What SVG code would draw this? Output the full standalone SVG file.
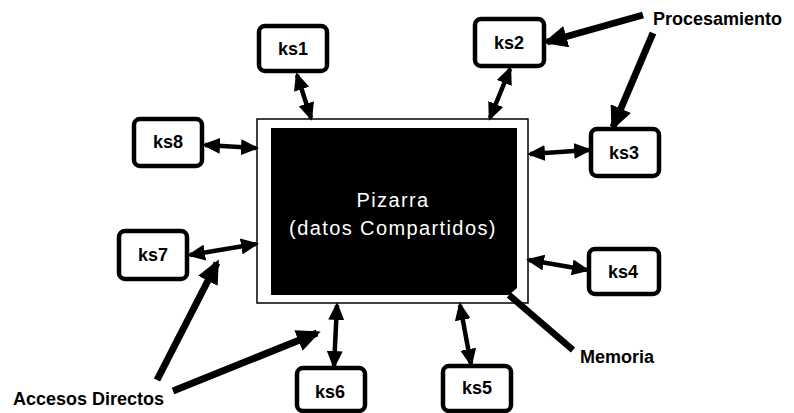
<svg xmlns="http://www.w3.org/2000/svg" width="794" height="413" viewBox="0 0 794 413">
<style>
.node rect{fill:#fff;stroke:#000;stroke-width:4.5}
.lbl{font-family:"Liberation Sans",Arial,sans-serif;font-weight:bold;font-size:18px;fill:#000;text-anchor:middle;dominant-baseline:central}
.note{font-family:"Liberation Sans",Arial,sans-serif;font-weight:bold;font-size:18px;fill:#000;dominant-baseline:central}
.big{font-family:"Liberation Sans",Arial,sans-serif;font-size:20px;letter-spacing:1.4px;fill:#fff;text-anchor:middle;dominant-baseline:central}
.dbl{stroke:#000;stroke-width:4.5;fill:none;marker-start:url(#h);marker-end:url(#h)}
.one{stroke:#000;stroke-width:7;fill:none;marker-end:url(#H)}
.mem{stroke:#000;stroke-width:6.5;fill:none}
</style>
<defs>
<marker id="h" markerUnits="userSpaceOnUse" markerWidth="18" markerHeight="16" viewBox="0 0 18 16" refX="15" refY="8" orient="auto-start-reverse">
<path d="M0,0 L18,8 L0,16 z" fill="#000"/>
</marker>
<marker id="H" markerUnits="userSpaceOnUse" markerWidth="24" markerHeight="22" viewBox="0 0 24 22" refX="20" refY="11" orient="auto">
<path d="M0,0 L24,11 L0,22 z" fill="#000"/>
</marker>
</defs>
<rect width="794" height="413" fill="#fff"/>

<g id="pizarra">
<rect x="257" y="119" width="271" height="184" fill="#fff" stroke="#000" stroke-width="1.5"/>
<path d="M271,128 H517 V288 L509,295 H271 Z" fill="#000"/>
<text class="big" x="393" y="200">Pizarra</text>
<text class="big" x="393" y="228">(datos Compartidos)</text>
</g>

<g id="ks1" class="node"><rect x="259" y="26" width="68" height="45" rx="6"/><text class="lbl" x="293" y="49">ks1</text></g>
<g id="ks2" class="node"><rect x="475" y="19" width="69" height="47" rx="6"/><text class="lbl" x="509" y="43">ks2</text></g>
<g id="ks3" class="node"><rect x="591" y="129" width="68" height="47" rx="6"/><text class="lbl" x="624" y="153">ks3</text></g>
<g id="ks4" class="node"><rect x="589" y="249" width="70" height="45" rx="6"/><text class="lbl" x="623" y="272">ks4</text></g>
<g id="ks5" class="node"><rect x="443" y="366" width="68" height="45" rx="6"/><text class="lbl" x="477" y="388">ks5</text></g>
<g id="ks6" class="node"><rect x="297" y="368" width="68" height="43" rx="6"/><text class="lbl" x="330" y="392">ks6</text></g>
<g id="ks7" class="node"><rect x="119" y="231" width="68" height="48" rx="6"/><text class="lbl" x="153" y="255">ks7</text></g>
<g id="ks8" class="node"><rect x="134" y="119" width="68" height="47" rx="6"/><text class="lbl" x="168" y="142">ks8</text></g>

<g id="labels">
<text class="note" x="653" y="19">Procesamiento</text>
<text class="note" x="580" y="357">Memoria</text>
<text class="note" x="13" y="399">Accesos Directos</text>
</g>

<g id="connectors">
<line class="dbl" x1="297" y1="75" x2="311" y2="118"/>
<line class="dbl" x1="510" y1="69" x2="490" y2="118"/>
<line class="dbl" x1="530" y1="154" x2="589" y2="150"/>
<line class="dbl" x1="529" y1="260" x2="587" y2="270"/>
<line class="dbl" x1="460" y1="305" x2="471" y2="364"/>
<line class="dbl" x1="337" y1="305" x2="334" y2="366"/>
<line class="dbl" x1="190" y1="255" x2="256" y2="244"/>
<line class="dbl" x1="205" y1="145" x2="256" y2="148"/>
<line class="one" x1="643" y1="15" x2="547" y2="42"/>
<line class="one" x1="653" y1="33" x2="613" y2="127"/>
<line class="one" x1="157" y1="380" x2="217" y2="263"/>
<line class="one" x1="173" y1="391" x2="317" y2="333"/>
<line class="mem" x1="509" y1="295" x2="573" y2="350"/>
</g>
</svg>
